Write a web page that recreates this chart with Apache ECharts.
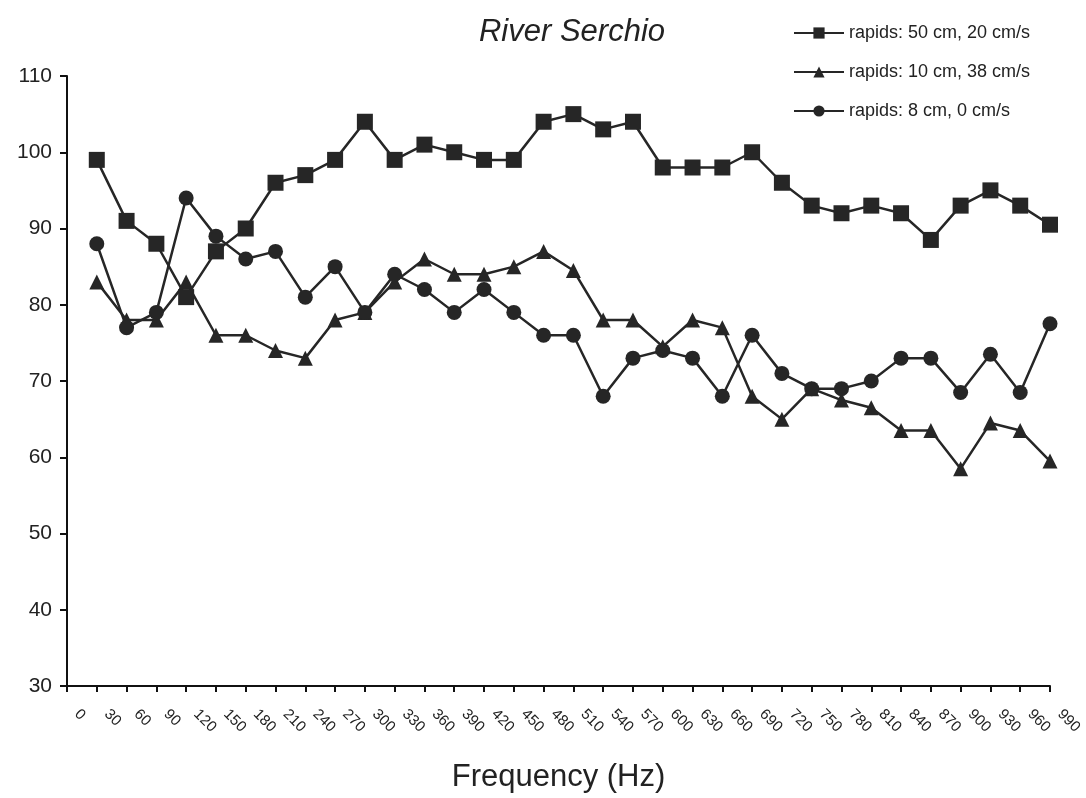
<!DOCTYPE html>
<html>
<head>
<meta charset="utf-8">
<script src="https://cdn.jsdelivr.net/npm/echarts@6/dist/echarts.min.js"></script>
<style>
html,body{margin:0;padding:0;background:#fff;}
#chart{width:1086px;height:798px;}
</style>
</head>
<body>
<div id="chart"></div>
<script>
var frequencies = [30,60,90,120,150,180,210,240,270,300,330,360,390,420,450,480,510,540,570,600,630,660,690,720,750,780,810,840,870,900,930,960,990];
var rapids50 = [99,91,88,81,87,90,96,97,99,104,99,101,100,99,99,104,105,103,104,98,98,98,100,96,93,92,93,92,88.5,93,95,93,90.5];
var rapids10 = [83,78,78,83,76,76,74,73,78,79,83,86,84,84,85,87,84.5,78,78,74.5,78,77,68,65,69,67.5,66.5,63.5,63.5,58.5,64.5,63.5,59.5];
var rapids8 = [88,77,79,94,89,86,87,81,85,79,84,82,79,82,79,76,76,68,73,74,73,68,76,71,69,69,70,73,73,68.5,73.5,68.5,77.5];
var seriesNames = ['rapids: 50 cm, 20 cm/s','rapids: 10 cm, 38 cm/s','rapids: 8 cm, 0 cm/s'];
var yTicks = {min:30, max:110, interval:10};
var xTicks = {min:0, max:990, interval:30};

function pairs(vals){ return frequencies.map(function(f,i){ return [f, vals[i]]; }); }

var ink = '#262626';
var font = 'Liberation Sans, Arial, sans-serif';
var chart = echarts.init(document.getElementById('chart'), null, {renderer:'canvas'});
function mkSeries(name, vals, symbol, size){
  return {
    name:name, type:'line', data:pairs(vals), symbol:symbol, symbolSize:size,
    lineStyle:{color:ink, width:2.5}, itemStyle:{color:ink},
    emphasis:{disabled:true}, animation:false
  };
}
chart.setOption({
  animation:false,
  backgroundColor:'#fff',
  title:{
    text:'River Serchio', left:567, top:12, textAlign:'center',
    textStyle:{fontFamily:font, fontStyle:'italic', fontWeight:'normal', fontSize:31, color:'#222'}
  },
  legend:{
    orient:'vertical', left:788, top:19, itemWidth:50, itemHeight:14, itemGap:21,
    textStyle:{fontFamily:font, fontSize:18, color:'#222'},
    data:seriesNames
  },
  grid:{left:67, right:36, top:76, bottom:111, containLabel:false},
  xAxis:{
    type:'value', min:xTicks.min, max:xTicks.max, interval:xTicks.interval,
    name:'Frequency (Hz)', nameLocation:'middle', nameGap:76,
    nameTextStyle:{fontFamily:font, fontSize:31, color:'#222'},
    axisLine:{show:true, lineStyle:{color:'#111', width:2}},
    axisTick:{show:true, inside:false, length:6, lineStyle:{color:'#111', width:2}},
    splitLine:{show:false},
    axisLabel:{rotate:-45, margin:16, padding:[0,0,0,14], fontFamily:font, fontSize:15, color:'#222', showMinLabel:true, showMaxLabel:true}
  },
  yAxis:{
    type:'value', min:yTicks.min, max:yTicks.max, interval:yTicks.interval,
    axisLine:{show:true, lineStyle:{color:'#111', width:2}},
    axisTick:{show:true, inside:false, length:7, lineStyle:{color:'#111', width:2}},
    splitLine:{show:false},
    axisLabel:{margin:15, fontFamily:font, fontSize:21, color:'#222'}
  },
  series:[
    mkSeries(seriesNames[0], rapids50, 'rect', 16),
    mkSeries(seriesNames[1], rapids10, 'triangle', 15),
    mkSeries(seriesNames[2], rapids8, 'circle', 15)
  ]
});
</script>
</body>
</html>
